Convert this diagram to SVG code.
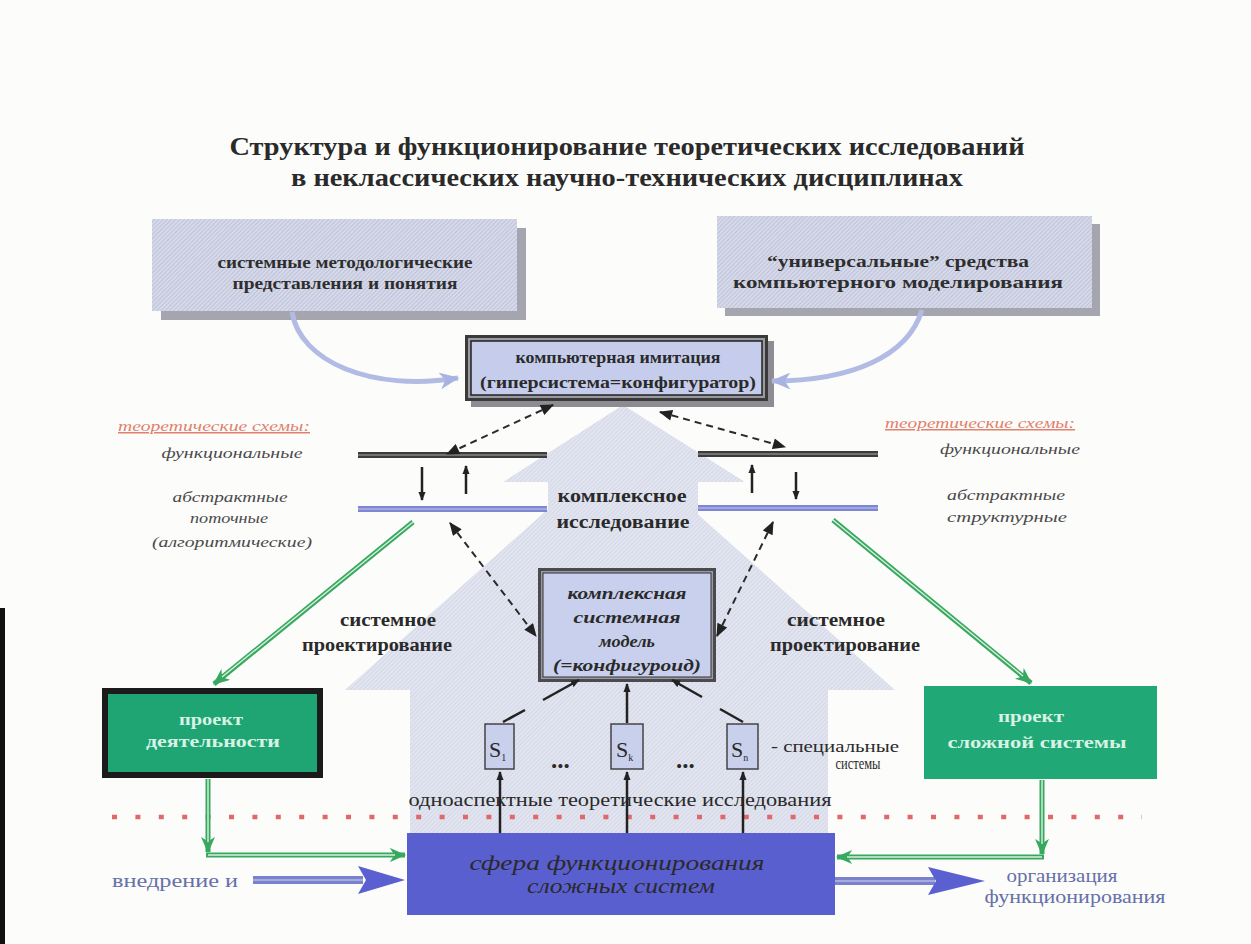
<svg xmlns="http://www.w3.org/2000/svg" width="1251" height="944" viewBox="0 0 1251 944" font-family="'Liberation Serif','Times New Roman',serif">
<style>
.t{font-family:"Liberation Serif","Times New Roman",serif;fill:#2a2a2a}
.b{font-weight:bold}
.i{font-style:italic}
.m{text-anchor:middle}
.lbl{font-size:15px;font-style:italic;fill:#4a4a4a}
.red{fill:#e2806c;text-decoration:underline}
.bx{font-size:17px;font-weight:bold;fill:#2e2e2e}
.gt{font-size:17px;font-weight:bold;fill:#d8f3e4}
.bl{fill:#6670a8;font-size:18px}
.dash{stroke:#2a2a2a;stroke-width:2;stroke-dasharray:7 5;fill:none}
.blk{stroke:#222;stroke-width:2.5;fill:none}
.g1{stroke:#38a860;stroke-width:5;fill:none}
.g2{stroke:#d8f0de;stroke-width:1.4;fill:none}
.cur{stroke:#b2bbe4;stroke-width:5;fill:none}
.sbox{fill:#c9d0ec;stroke:#444;stroke-width:1.5}
</style>
<defs>
<pattern id="hA" width="3" height="3" patternUnits="userSpaceOnUse" patternTransform="rotate(45)">
<rect width="3" height="3" fill="#e2e5f0"/><rect width="1" height="3" fill="#d4d8e7"/>
</pattern>
<pattern id="hB" width="3" height="3" patternUnits="userSpaceOnUse" patternTransform="rotate(45)">
<rect width="3" height="3" fill="#d6d9ea"/><rect width="1" height="3" fill="#bfc3d8"/>
</pattern>
<marker id="ad" viewBox="0 0 12 10" refX="11" refY="5" markerWidth="14" markerHeight="11" markerUnits="userSpaceOnUse" orient="auto-start-reverse">
<path d="M0,0 L12,5 L0,10 z" fill="#222"/>
</marker>
<marker id="as" viewBox="0 0 10 8" refX="9" refY="4" markerWidth="9" markerHeight="8" markerUnits="userSpaceOnUse" orient="auto-start-reverse">
<path d="M0,0 L10,4 L0,8 z" fill="#222"/>
</marker>
<marker id="ag" viewBox="0 0 14 12" refX="13" refY="6" markerWidth="17" markerHeight="14" markerUnits="userSpaceOnUse" orient="auto">
<path d="M0,0 L14,6 L0,12 L4,6 z" fill="#38a860"/>
</marker>
<marker id="ac" viewBox="0 0 14 12" refX="13" refY="6" markerWidth="20" markerHeight="17" markerUnits="userSpaceOnUse" orient="auto">
<path d="M0,0 L14,6 L0,12 L4,6 z" fill="#a9b3e2"/>
</marker>
</defs>

<rect width="1251" height="944" fill="#fcfcfb"/>
<rect x="0" y="608" width="5" height="336" fill="#111"/>

<g id="title">
<text class="t b m" x="627" y="155" font-size="25" fill="#333" textLength="795" lengthAdjust="spacingAndGlyphs">Структура и функционирование теоретических исследований</text>
<text class="t b m" x="627" y="186" font-size="25" fill="#333" textLength="672" lengthAdjust="spacingAndGlyphs">в неклассических научно-технических дисциплинах</text>
</g>

<g id="complex-research-arrow">
<polygon points="410,838 410,690 345,690 620,445 895,690 828,690 828,838" fill="url(#hA)"/>
<polygon points="548,600 548,482 503,482 623,405 745,482 698,482 698,600" fill="url(#hA)"/>
<text class="t b m" x="622" y="502" font-size="18" textLength="129" lengthAdjust="spacingAndGlyphs">комплексное</text>
<text class="t b m" x="623" y="528" font-size="18" textLength="133" lengthAdjust="spacingAndGlyphs">исследование</text>
</g>

<g id="methodology">
<rect x="161" y="228" width="365" height="92" fill="#a4a5ae"/>
<rect x="152" y="219" width="365" height="92" fill="url(#hB)"/>
<text class="t bx m" x="345" y="268" textLength="255" lengthAdjust="spacingAndGlyphs">системные методологические</text>
<text class="t bx m" x="345" y="289" textLength="225" lengthAdjust="spacingAndGlyphs">представления и понятия</text>
</g>

<g id="modeling-tools">
<rect x="725" y="224" width="375" height="92" fill="#a4a5ae"/>
<rect x="717" y="216" width="375" height="92" fill="url(#hB)"/>
<text class="t bx m" x="898" y="267" textLength="262" lengthAdjust="spacingAndGlyphs">“универсальные” средства</text>
<text class="t bx m" x="898" y="288" textLength="330" lengthAdjust="spacingAndGlyphs">компьютерного моделирования</text>
</g>

<g id="computer-imitation">
<rect x="471" y="341" width="303" height="66" fill="#8c8c92"/>
<rect x="465" y="335" width="303" height="66" fill="#3a3a3a"/>
<rect x="468" y="338" width="297" height="60" fill="#9a9aa0"/>
<rect x="471" y="341" width="291" height="54" fill="#c6cdec" stroke="#222" stroke-width="1.5"/>
<text class="t b m" x="618" y="363" font-size="16" textLength="205" lengthAdjust="spacingAndGlyphs">компьютерная имитация</text>
<text class="t b m" x="618" y="388" font-size="16" textLength="276" lengthAdjust="spacingAndGlyphs">(гиперсистема=конфигуратор)</text>
</g>

<g id="schemes-left">
<rect x="358" y="452" width="189" height="6" fill="#3c3c3c"/><rect x="358" y="454.5" width="189" height="1" fill="#aaa"/>
<rect x="358" y="506" width="189" height="6" fill="#7f87d2"/><rect x="358" y="508.5" width="189" height="1" fill="#c3c7ee"/>
<text class="t lbl red m" x="214" y="431" textLength="192" lengthAdjust="spacingAndGlyphs">теоретические схемы:</text>
<text class="t lbl m" x="232" y="458" textLength="141" lengthAdjust="spacingAndGlyphs">функциональные</text>
<text class="t lbl m" x="230" y="502" textLength="115" lengthAdjust="spacingAndGlyphs">абстрактные</text>
<text class="t lbl m" x="229" y="523" textLength="78" lengthAdjust="spacingAndGlyphs">поточные</text>
<text class="t lbl m" x="232" y="547" textLength="160" lengthAdjust="spacingAndGlyphs">(алгоритмические)</text>
</g>

<g id="schemes-right">
<rect x="698" y="451" width="180" height="6" fill="#3c3c3c"/><rect x="698" y="453.5" width="180" height="1" fill="#aaa"/>
<rect x="698" y="505" width="180" height="6" fill="#7f87d2"/><rect x="698" y="507.5" width="180" height="1" fill="#c3c7ee"/>
<text class="t lbl red m" x="980" y="428" textLength="190" lengthAdjust="spacingAndGlyphs">теоретические схемы:</text>
<text class="t lbl m" x="1010" y="454" textLength="140" lengthAdjust="spacingAndGlyphs">функциональные</text>
<text class="t lbl m" x="1006" y="500" textLength="118" lengthAdjust="spacingAndGlyphs">абстрактные</text>
<text class="t lbl m" x="1007" y="522" textLength="120" lengthAdjust="spacingAndGlyphs">структурные</text>
</g>

<g id="system-model">
<rect x="538" y="568" width="178" height="114" fill="#4a4a50"/>
<rect x="541" y="571" width="172" height="108" fill="#9a9aa2"/>
<rect x="543" y="573" width="168" height="104" fill="#c9d0ed" stroke="#333" stroke-width="1"/>
<text class="t b i m" x="627" y="599" font-size="17" textLength="119" lengthAdjust="spacingAndGlyphs">комплексная</text>
<text class="t b i m" x="627" y="623" font-size="17" textLength="107" lengthAdjust="spacingAndGlyphs">системная</text>
<text class="t b i m" x="627" y="647" font-size="17" textLength="56" lengthAdjust="spacingAndGlyphs">модель</text>
<text class="t b i m" x="627" y="671" font-size="17" textLength="148" lengthAdjust="spacingAndGlyphs">(=конфигуроид)</text>
</g>

<g id="design-labels">
<text class="t b m" x="388" y="626" font-size="18" textLength="96" lengthAdjust="spacingAndGlyphs">системное</text>
<text class="t b m" x="377" y="651" font-size="18" textLength="150" lengthAdjust="spacingAndGlyphs">проектирование</text>
<text class="t b m" x="836" y="626" font-size="18" textLength="98" lengthAdjust="spacingAndGlyphs">системное</text>
<text class="t b m" x="845" y="651" font-size="18" textLength="150" lengthAdjust="spacingAndGlyphs">проектирование</text>
</g>

<g id="activity-project">
<rect x="105" y="691" width="215" height="84" fill="#1fa574" stroke="#1b1b1b" stroke-width="6"/>
<text class="t gt m" x="211" y="725" textLength="64" lengthAdjust="spacingAndGlyphs">проект</text>
<text class="t gt m" x="213" y="747" textLength="134" lengthAdjust="spacingAndGlyphs">деятельности</text>
</g>

<g id="complex-system-project">
<rect x="924" y="686" width="233" height="93" fill="#21a877"/>
<text class="t gt m" x="1031" y="722" textLength="66" lengthAdjust="spacingAndGlyphs">проект</text>
<text class="t gt m" x="1037" y="748" textLength="179" lengthAdjust="spacingAndGlyphs">сложной системы</text>
</g>

<g id="special-systems">
<rect class="sbox" x="485" y="724" width="29" height="45"/>
<text class="t" x="489" y="757" font-size="22">S<tspan font-size="10" dy="4">1</tspan></text>
<rect class="sbox" x="611" y="724" width="32" height="45"/>
<text class="t" x="616" y="757" font-size="22">S<tspan font-size="10" dy="4">k</tspan></text>
<rect class="sbox" x="727" y="724" width="31" height="45"/>
<text class="t" x="731" y="757" font-size="22">S<tspan font-size="10" dy="4">n</tspan></text>
<text class="t b m" x="561" y="771" font-size="15" letter-spacing="1">•••</text>
<text class="t b m" x="686" y="771" font-size="15" letter-spacing="1">•••</text>
<text class="t m" x="835" y="752" font-size="16" fill="#333" textLength="128" lengthAdjust="spacingAndGlyphs">- специальные</text>
<text class="t m" x="858" y="769" font-size="16" fill="#333" textLength="45" lengthAdjust="spacingAndGlyphs">системы</text>
<text class="t m" x="620" y="806" font-size="18" textLength="423" lengthAdjust="spacingAndGlyphs">одноаспектные теоретические исследования</text>
</g>

<line id="boundary" x1="112" y1="817" x2="1142" y2="817" stroke="#e06868" stroke-width="4.5" stroke-dasharray="5 18.4"/>

<g id="functioning-sphere">
<rect x="407" y="833" width="428" height="82" fill="#5a5fd0"/>
<text class="t i m" x="617" y="870" font-size="20" fill="#e6e8ff" textLength="295" lengthAdjust="spacingAndGlyphs">сфера функционирования</text>
<text class="t i m" x="621" y="893" font-size="20" fill="#e6e8ff" textLength="188" lengthAdjust="spacingAndGlyphs">сложных систем</text>
</g>

<g id="implementation">
<text class="t bl m" x="175" y="887" textLength="126" lengthAdjust="spacingAndGlyphs">внедрение и</text>
</g>
<g id="organization">
<text class="t bl m" x="1062" y="882" textLength="111" lengthAdjust="spacingAndGlyphs">организация</text>
<text class="t bl m" x="1075" y="903" textLength="181" lengthAdjust="spacingAndGlyphs">функционирования</text>
</g>

<g id="connectors">
<path class="cur" d="M292,312 C300,362 372,392 458,378" marker-end="url(#ac)"/>
<path class="cur" d="M922,310 C908,356 852,381 772,381" marker-end="url(#ac)"/>

<path class="dash" d="M553,405 L447,454" marker-start="url(#ad)" marker-end="url(#ad)"/>
<path class="dash" d="M660,412 L785,447" marker-start="url(#ad)" marker-end="url(#ad)"/>
<path class="dash" d="M450,523 L536,636" marker-start="url(#ad)" marker-end="url(#ad)"/>
<path class="dash" d="M773,522 L717,636" marker-start="url(#ad)" marker-end="url(#ad)"/>

<path class="blk" stroke-width="2" d="M422,467 V500" marker-end="url(#as)"/>
<path class="blk" stroke-width="2" d="M466,494 V466" marker-end="url(#as)"/>
<path class="blk" stroke-width="2" d="M752,493 V465" marker-end="url(#as)"/>
<path class="blk" stroke-width="2" d="M796,472 V499" marker-end="url(#as)"/>

<path class="g1" d="M413,522 L214,684" marker-end="url(#ag)"/>
<path class="g2" d="M413,522 L222,677"/>
<path class="g1" d="M833,520 L1031,683" marker-end="url(#ag)"/>
<path class="g2" d="M833,520 L1023,676"/>

<path class="g1" d="M208,779 V852" marker-end="url(#ag)"/>
<path class="g2" d="M208,779 V842"/>
<path class="g1" d="M206,855 H405" marker-end="url(#ag)"/>
<path class="g2" d="M208,855 H395"/>
<path class="g1" d="M1042,780 V854" marker-end="url(#ag)"/>
<path class="g2" d="M1042,780 V844"/>
<path class="g1" d="M1044,857 H837" marker-end="url(#ag)"/>
<path class="g2" d="M1042,857 H847"/>

<path class="blk" d="M500,833 V772" marker-end="url(#as)"/>
<path class="blk" d="M627,833 V772" marker-end="url(#as)"/>
<path class="blk" d="M743,833 V772" marker-end="url(#as)"/>

<path class="blk" d="M503,722 L525,710"/>
<path class="blk" d="M543,700 L579,680" marker-end="url(#as)"/>
<path class="blk" d="M627,723 V684" marker-end="url(#as)"/>
<path class="blk" d="M743,722 L720,709"/>
<path class="blk" d="M702,697 L672,680" marker-end="url(#as)"/>

<rect x="253" y="876" width="110" height="8" fill="#7a82cc"/>
<rect x="253" y="879.3" width="110" height="1.4" fill="#b9beea"/>
<path d="M358,866 L405,880 L358,894 L366,880 z" fill="#5a60d0"/>
<rect x="835" y="877" width="100" height="8" fill="#7a82cc"/>
<rect x="835" y="880.3" width="100" height="1.4" fill="#b9beea"/>
<path d="M928,867 L985,881 L928,895 L936,881 z" fill="#5a60d0"/>
</g>
</svg>
